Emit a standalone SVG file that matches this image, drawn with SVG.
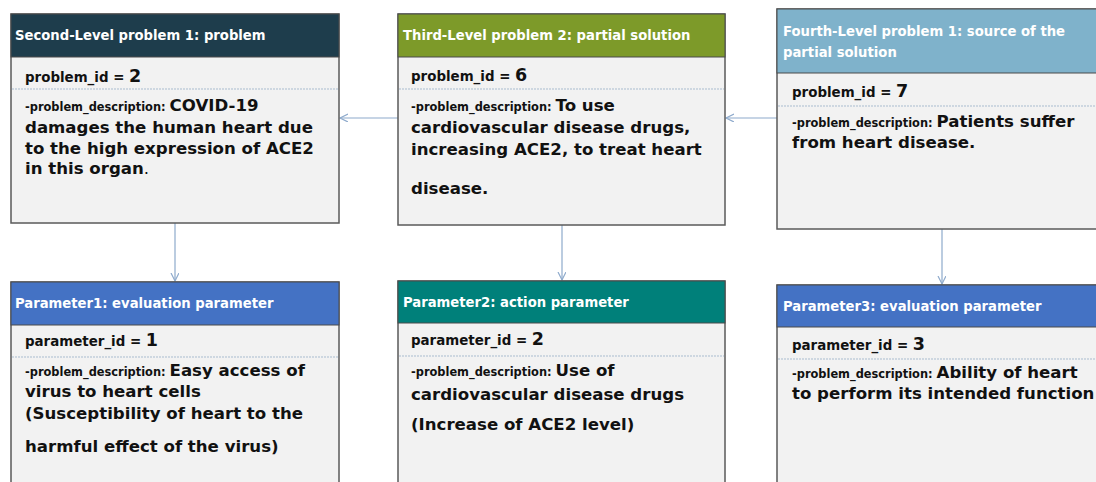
<svg xmlns="http://www.w3.org/2000/svg" width="1096" height="482" viewBox="0 0 1096 482">
<defs>
<style>
.box{fill:#f2f2f2;stroke:#5a5a5a;stroke-width:1.5}
.hd{stroke:#4a4a4a;stroke-width:1}
.sep{stroke:#a9bccf;stroke-width:1;stroke-dasharray:2 1}
.ht{font-family:"DejaVu Sans","Open Sans",sans-serif;font-weight:700;font-size:13.2px;fill:#ffffff}
.id{font-family:"DejaVu Sans","Open Sans",sans-serif;font-weight:700;font-size:13.4px;fill:#111}
.num{font-size:17.5px}
.lab{font-family:"DejaVu Sans","Open Sans",sans-serif;font-weight:700;font-size:11.4px;fill:#111}
.big{font-family:"DejaVu Sans","Open Sans",sans-serif;font-weight:700;font-size:16.6px;fill:#111}
.con{stroke:#8eaacc;stroke-width:1.2;fill:none}
</style>
<marker id="arr" markerWidth="10" markerHeight="10" refX="8" refY="4" orient="auto" markerUnits="userSpaceOnUse">
<path d="M0,0 L8,4 L0,8" fill="none" stroke="#8eaacc" stroke-width="1.2"/>
</marker>
</defs>
<rect width="1096" height="482" fill="#ffffff"/>

<g id="connectors">
<line class="con" x1="398" y1="118" x2="340" y2="118" marker-end="url(#arr)"/>
<line class="con" x1="777" y1="118" x2="726" y2="118" marker-end="url(#arr)"/>
<line class="con" x1="175" y1="223" x2="175" y2="281" marker-end="url(#arr)"/>
<line class="con" x1="562" y1="225" x2="562" y2="280" marker-end="url(#arr)"/>
<line class="con" x1="942" y1="229" x2="942" y2="284" marker-end="url(#arr)"/>
</g>

<g id="node-second-level-problem-1">
<rect class="box" x="11" y="14" width="328" height="209"/>
<rect class="hd" x="11" y="14" width="328" height="43" fill="#1e3d4c"/>
<text class="ht" x="15" y="40">Second-Level problem 1: problem</text>
<text class="id" x="25" y="82">problem_id = <tspan class="num">2</tspan></text>
<line class="sep" x1="12" y1="89" x2="338" y2="89"/>
<text class="lab" x="25" y="111">-problem_description: <tspan class="big">COVID-19</tspan></text>
<text class="big" x="25" y="133">damages the human heart due</text>
<text class="big" x="25" y="154">to the high expression of ACE2</text>
<text class="big" x="25" y="174">in this organ<tspan font-weight="400">.</tspan></text>
</g>

<g id="node-third-level-problem-2">
<rect class="box" x="398" y="14" width="327" height="211"/>
<rect class="hd" x="398" y="14" width="327" height="43" fill="#7d9a29"/>
<text class="ht" x="403" y="40">Third-Level problem 2: partial solution</text>
<text class="id" x="411" y="81">problem_id = <tspan class="num">6</tspan></text>
<line class="sep" x1="399" y1="89" x2="724" y2="89"/>
<text class="lab" x="411" y="111">-problem_description: <tspan class="big">To use</tspan></text>
<text class="big" x="411" y="133">cardiovascular disease drugs,</text>
<text class="big" x="411" y="155">increasing ACE2, to treat heart</text>
<text class="big" x="411" y="194">disease.</text>
</g>

<g id="node-fourth-level-problem-1">
<rect class="box" x="777" y="9" width="330" height="220"/>
<rect class="hd" x="777" y="9" width="330" height="64" fill="#7fb2cb"/>
<text class="ht" x="783" y="36">Fourth-Level problem 1: source of the</text>
<text class="ht" x="783" y="57">partial solution</text>
<text class="id" x="792" y="97">problem_id = <tspan class="num">7</tspan></text>
<line class="sep" x1="778" y1="106" x2="1096" y2="106"/>
<text class="lab" x="792" y="127">-problem_description: <tspan class="big">Patients suffer</tspan></text>
<text class="big" x="792" y="148">from heart disease.</text>
</g>

<g id="node-parameter-1">
<rect class="box" x="11" y="282" width="328" height="210"/>
<rect class="hd" x="11" y="282" width="328" height="43" fill="#4472c4"/>
<text class="ht" x="15" y="308">Parameter1: evaluation parameter</text>
<text class="id" x="25" y="346">parameter_id = <tspan class="num">1</tspan></text>
<line class="sep" x1="12" y1="357" x2="338" y2="357"/>
<text class="lab" x="25" y="376">-problem_description: <tspan class="big">Easy access of</tspan></text>
<text class="big" x="25" y="397">virus to heart cells</text>
<text class="big" x="25" y="419">(Susceptibility of heart to the</text>
<text class="big" x="25" y="452">harmful effect of the virus)</text>
</g>

<g id="node-parameter-2">
<rect class="box" x="398" y="281" width="327" height="211"/>
<rect class="hd" x="398" y="281" width="327" height="42" fill="#00807a"/>
<text class="ht" x="403" y="307">Parameter2: action parameter</text>
<text class="id" x="411" y="345">parameter_id = <tspan class="num">2</tspan></text>
<line class="sep" x1="399" y1="356" x2="724" y2="356"/>
<text class="lab" x="411" y="376">-problem_description: <tspan class="big">Use of</tspan></text>
<text class="big" x="411" y="400">cardiovascular disease drugs</text>
<text class="big" x="411" y="430">(Increase of ACE2 level)</text>
</g>

<g id="node-parameter-3">
<rect class="box" x="777" y="285" width="330" height="207"/>
<rect class="hd" x="777" y="285" width="330" height="42" fill="#4472c4"/>
<text class="ht" x="783" y="311">Parameter3: evaluation parameter</text>
<text class="id" x="792" y="350">parameter_id = <tspan class="num">3</tspan></text>
<line class="sep" x1="778" y1="359" x2="1096" y2="359"/>
<text class="lab" x="792" y="378">-problem_description: <tspan class="big">Ability of heart</tspan></text>
<text class="big" x="792" y="399">to perform its intended function</text>
</g>
</svg>
